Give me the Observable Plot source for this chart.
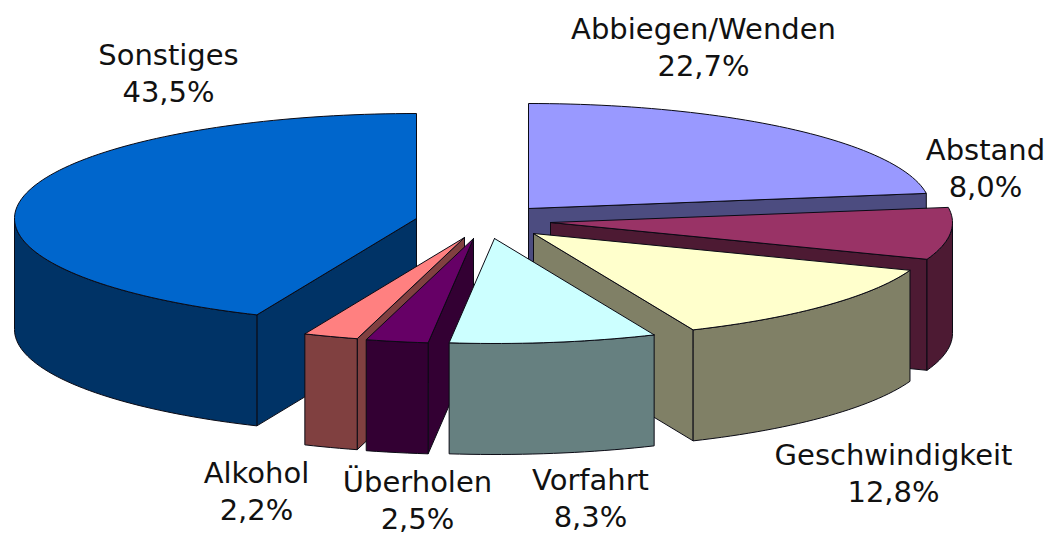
<!DOCTYPE html>
<html><head><meta charset="utf-8">
<style>html,body{margin:0;padding:0;background:#fff}svg{display:block}</style>
<script src="https://cdn.jsdelivr.net/npm/d3@7"></script>
<script src="https://cdn.jsdelivr.net/npm/@observablehq/plot@0.6"></script>
</head><body><div id="chart"></div>
<script>
const categories = ["Abbiegen/Wenden","Abstand","Geschwindigkeit","Vorfahrt","Überholen","Alkohol","Sonstiges"];
const shares = [22.7,8.0,12.8,8.3,2.5,2.2,43.5];
const shareLabels = ["22,7%","8,0%","12,8%","8,3%","2,5%","2,2%","43,5%"];
const topColors = ["#9999ff","#993366","#ffffcc","#ccffff","#660066","#ff8080","#0066cc"];
const sideColors = ["#4c4c80","#4d1a33","#808066","#668080","#330033","#804040","#003366"];
const apexX = [528,550,533,494,473,464,416];
const apexY = [208,222,233,238,238,237,218];
const labelX = [703,985,893,590,417,256,168];
const labelY = [45,166,471,496,498,489,71];
const drawOrder = [6,0,1,2,5,4,3];
const RX = 402, RY = 105, DEPTH = 111;

const rad = d => d * Math.PI / 180;
let acc = 0;
const slices = shares.map((s,i) => { const a0 = acc; acc += s*3.6; return {i, a0, a1: acc}; });
const rim = (i,a,dz=0) => [apexX[i] + RX*Math.sin(rad(a)), apexY[i] - RY*Math.cos(rad(a)) + dz];
const arc = (i,a0,a1,dz=0) => { const n = Math.max(2,Math.ceil((a1-a0)/1.5)); return d3.range(n+1).map(k => rim(i,a0+(a1-a0)*k/n,dz)); };

const polys = [];
let pid = 0;
const add = (pts, fill) => { const id = pid++; [...pts, pts[0]].forEach(p => polys.push({x:p[0], y:p[1], id, fill})); };
for (const k of drawOrder) {
  const {i,a0,a1} = slices[k];
  const A = [apexX[i],apexY[i]], Ad = [apexX[i],apexY[i]+DEPTH];
  if (a1 <= 180 && a1 > 0) add([A, rim(i,a1), rim(i,a1,DEPTH), Ad], sideColors[i]);
  if (a0 >= 180) add([A, rim(i,a0), rim(i,a0,DEPTH), Ad], sideColors[i]);
  const f0 = Math.max(a0,90), f1 = Math.min(a1,270);
  if (f1 > f0) add([...arc(i,f0,f1), ...arc(i,f0,f1,DEPTH).reverse()], sideColors[i]);
  add([A, ...arc(i,a0,a1)], topColors[i]);
}
const labels = categories.map((c,i) => ({x:labelX[i], y:labelY[i], t:c+"\n"+shareLabels[i]}));

const plot = Plot.plot({
  width:1047, height:536, margin:0,
  x:{domain:[0,1047], range:[0,1047], axis:null},
  y:{domain:[0,536], range:[0,536], axis:null},
  style:{background:"#fff"},
  marks:[
    Plot.line(polys,{x:"x",y:"y",z:"id",fill:"fill",stroke:"#0a0a14",strokeWidth:1,curve:"linear"}),
    Plot.text(labels,{x:"x",y:"y",text:"t",fontSize:29,lineHeight:1.27,fill:"#111",fontFamily:"DejaVu Sans",textAnchor:"middle"})
  ]
});
document.getElementById("chart").append(plot);
</script></body></html>
